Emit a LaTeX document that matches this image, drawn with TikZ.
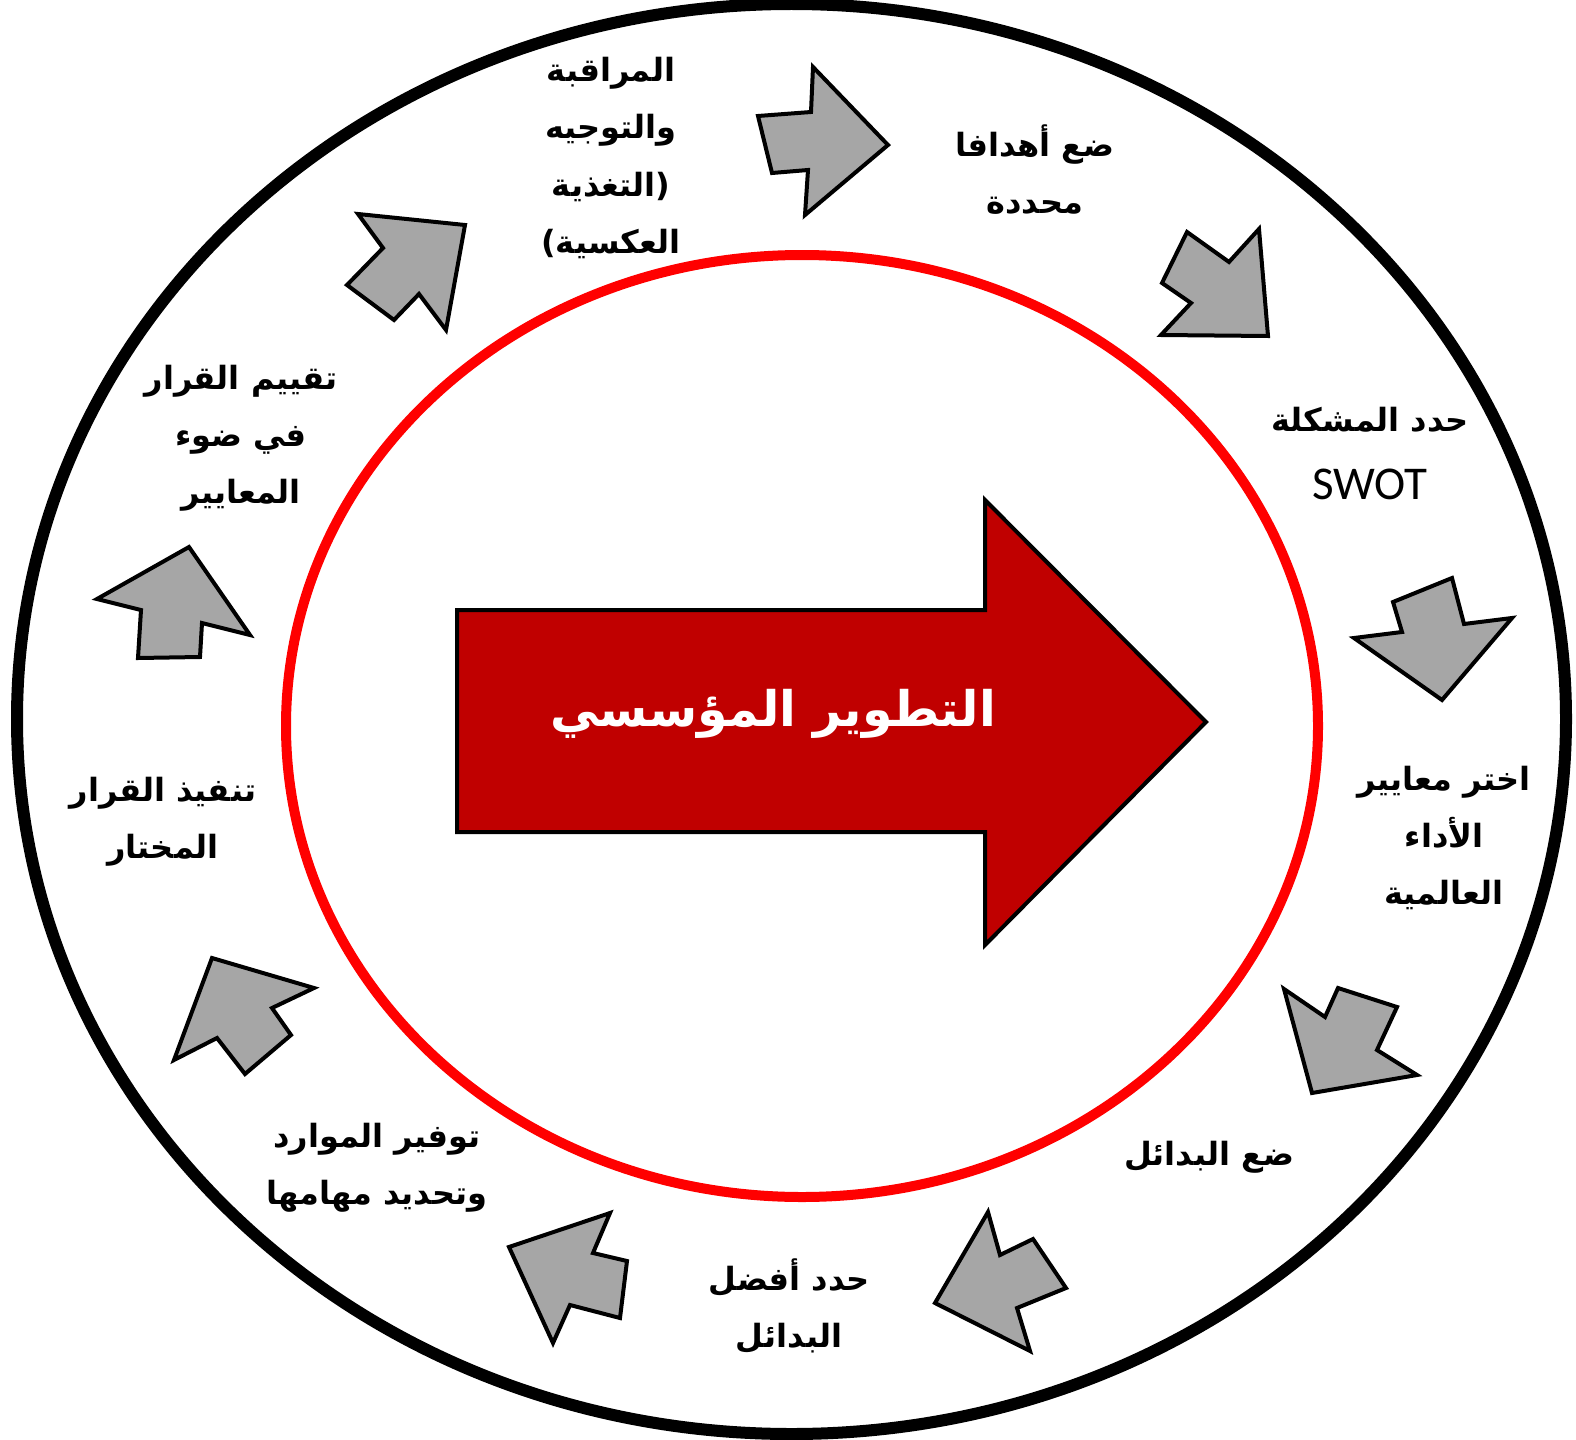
\documentclass[tikz,border=0pt]{standalone}
\usepackage{fontspec}
\newfontfamily\arabicfont[Script=Arabic]{DejaVu Sans}
\newfontfamily\swotfont{Carlito}
\TeXXeTstate=1
\definecolor{arrowgray}{HTML}{A6A6A6}
\definecolor{darkred}{HTML}{C00000}
\newcommand\ar[1]{{\arabicfont\bfseries\beginR #1\endR}}
\begin{document}
\begin{tikzpicture}[x=1bp,y=-1bp,
  grayarrow/.style={draw=black,line width=4bp,fill=arrowgray,line join=miter},
  lbl/.style={align=center,font=\fontsize{32bp}{57bp}\selectfont,inner sep=0pt}]
\useasboundingbox (0,0) rectangle (1576,1440);
\fill[white] (0,0) rectangle (1576,1440);
\draw[line width=12bp] (791.5,719) ellipse [x radius=774.5, y radius=715];
\draw[red,line width=10bp] (802,726) ellipse [x radius=516, y radius=471];
% big arrow
\draw[line width=4bp,fill=darkred,line join=miter] (457,610) -- (985,610) -- (985,500) -- (1206,722) -- (985,945) -- (985,832) -- (457,832) -- cycle;
\node[text=white,font=\fontsize{49bp}{60bp}\selectfont,inner sep=0pt] (center) at (773,714) {\ar{التطوير المؤسسي}};
% gray arrows
\draw[grayarrow] (758,116) -- (811,112) -- (813,67) -- (888,145) -- (805,215) -- (808,170) -- (772,173) -- cycle;
\draw[grayarrow] (1187,232) -- (1229,262) -- (1259,229) -- (1268,336) -- (1161,335) -- (1191,303) -- (1162,283) -- cycle;
\draw[grayarrow] (1393,602) -- (1452,578) -- (1464,624) -- (1512,618) -- (1442,700) -- (1354,638) -- (1402,632) -- cycle;
\draw[grayarrow] (1338,988) -- (1397,1007) -- (1377,1050) -- (1417,1075) -- (1312,1093) -- (1284,989) -- (1325,1017) -- cycle;
\draw[grayarrow] (988,1212) -- (1000,1255) -- (1033,1239) -- (1066,1288) -- (1017,1308) -- (1030,1351) -- (935,1303) -- cycle;
\draw[grayarrow] (610,1213) -- (593,1253) -- (627,1261) -- (620,1318) -- (570,1305) -- (553,1343) -- (509,1247) -- cycle;
\draw[grayarrow] (212,958) -- (314,988) -- (272,1008) -- (291,1035) -- (245,1074) -- (217,1038) -- (174,1060) -- cycle;
\draw[grayarrow] (189,547) -- (250,635) -- (202,623) -- (200,657) -- (138,658) -- (141,610) -- (97,599) -- cycle;
\draw[grayarrow] (358,214) -- (465,225) -- (446,330) -- (419,294) -- (394,320) -- (347,285) -- (383,248) -- cycle;
% labels
\node[lbl] (l1) at (611,158) {\ar{المراقبة}\\\ar{والتوجيه}\\\ar{(التغذية}\\\ar{العكسية)}};
\node[lbl] (l2) at (1035,170) {\ar{ضع أهدافا}\\\ar{محددة}};
\node[lbl] (l3) at (1370,420) {\ar{حدد المشكلة}};
\node[lbl,font=\swotfont\fontsize{47bp}{50bp}\selectfont] (l3b) at (1370,484) {SWOT};
\node[lbl] (l4) at (1444,838) {\ar{اختر معايير}\\\ar{الأداء}\\\ar{العالمية}};
\node[lbl] (l5) at (1209,1157) {\ar{ضع البدائل}};
\node[lbl] (l6) at (789,1306) {\ar{حدد أفضل}\\\ar{البدائل}};
\node[lbl] (l7) at (377,1168) {\ar{توفير الموارد}\\\ar{وتحديد مهامها}};
\node[lbl] (l8) at (163,822) {\ar{تنفيذ القرار}\\\ar{المختار}};
\node[lbl] (l9) at (241,438) {\ar{تقييم القرار}\\\ar{في ضوء}\\\ar{المعايير}};
\end{tikzpicture}
\end{document}
